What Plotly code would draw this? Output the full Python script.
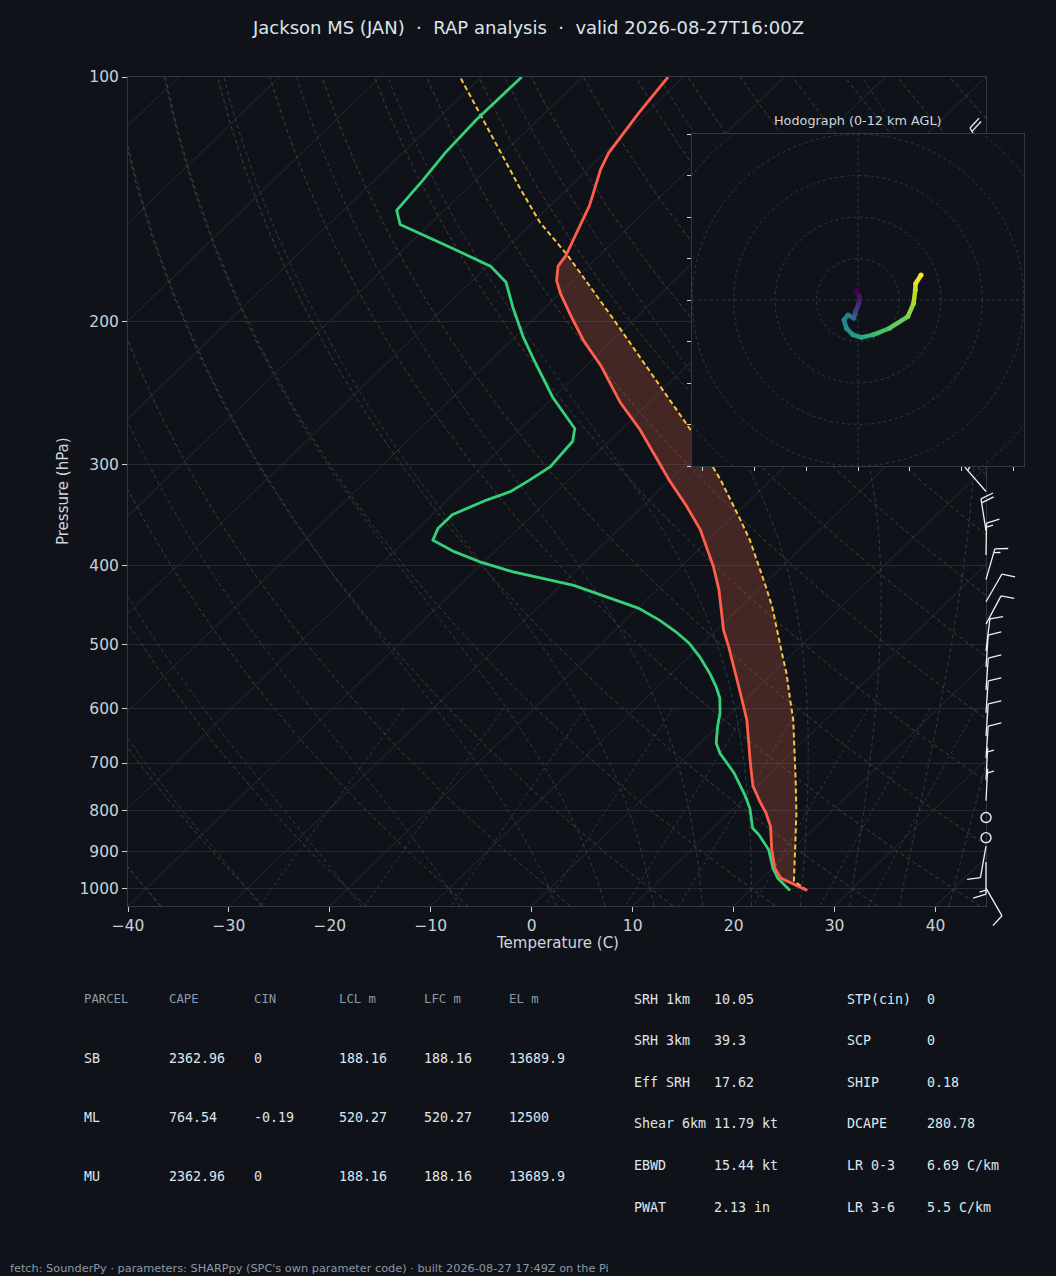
import numpy as np
import plotly.graph_objects as go
from plotly.colors import sample_colorscale

W, H = 1056, 1276
BG = "#0f1319"
FONT = "DejaVu Sans"
MONO = "DejaVu Sans Mono"

# ---- sounding (hPa, degC) ----
p_temp = [1005, 970, 943, 895, 838, 807, 781, 747, 700, 655, 619, 580, 538, 503, 480,
          458, 428, 401, 379, 361, 337, 314, 272, 252, 227, 211, 197, 185, 178, 171,
          166, 153, 144, 130, 124, 111, 100]
temp = [25.7, 21.8, 20.2, 18.0, 15.5, 13.7, 11.9, 9.6, 7.0, 4.4, 2.2, -0.7, -4.1, -7.1, -9.3,
        -11.2, -13.9, -16.8, -19.5, -21.9, -25.8, -30.0, -38.1, -42.8, -48.5, -52.9, -56.6, -59.9, -61.7, -63.0,
        -63.3, -64.9, -66.1, -68.7, -69.6, -70.7, -71.5]

p_dwpt = [1005, 970, 943, 895, 858, 842, 796, 766, 720, 681, 662, 631, 608, 582, 564,
          543, 518, 498, 482, 467, 451, 441, 423, 414, 407, 396, 384, 372, 360, 346,
          332, 324, 314, 302, 281, 271, 248, 223, 209, 192, 179, 171, 163, 152, 146,
          134, 124, 113, 100]
dwpt = [24.0, 21.5, 20.0, 17.7, 15.2, 13.9, 11.6, 9.7, 6.4, 3.0, 1.6, 0.0, -1.1, -2.7, -4.2,
        -6.2, -8.9, -11.4, -13.9, -16.6, -20.0, -23.0, -28.7, -32.8, -36.1, -40.3, -44.1, -47.3, -48.0, -48.0,
        -46.1, -44.6, -43.9, -43.2, -43.6, -44.7, -50.1, -55.8, -59.2, -63.3, -66.5, -69.7, -75.0, -82.9, -84.7,
        -85.2, -85.8, -86.1, -86.0]

# surface based parcel path
p_parcel = [1005, 978, 887, 807, 734, 668, 619, 580, 543, 513, 480, 449, 424, 399, 372,
            350, 330, 314, 272, 234, 199, 166, 151, 137, 100]
t_parcel = [25.7, 23.4, 20.0, 16.7, 13.2, 9.7, 6.8, 4.1, 1.4, -1.1, -4.0, -6.9, -9.6, -12.5, -15.9,
            -19.1, -22.2, -24.9, -33.1, -42.2, -52.0, -63.1, -69.3, -74.8, -92.1]
p_el = 166

# wind barbs (hPa, deg from, kt)
p_wind = [125, 324, 362, 388, 416, 443, 472, 509, 533, 569, 607, 648, 690, 734, 779,
          817, 865, 886, 927, 998]
wdir = [330, 319, 351, 1, 16, 30, 28, 7, 4, 4, 4, 4, 4, 3, 3, 0, 0, 190, 180, 150]
wspd = [20, 20, 20, 15, 15, 10, 10, 10, 10, 10, 10, 10, 10, 5, 5, 0, 0, 10, 15, 10]

# hodograph (u, v) and height km for colouring
hodo_u = [-0.4, 0.4, 0.2, -0.6, -1.0, -2.4, -3.4, -2.8, -1.2, 0.8, 3.6, 7.6, 12.0, 13.4, 13.8, 13.9, 15.2]
hodo_v = [2.2, 0.8, -0.8, -2.8, -4.4, -3.6, -4.8, -6.8, -8.4, -9.0, -8.4, -6.8, -4.0, -0.8, 2.4, 4.0, 6.0]
hodo_z = [0, 0.6, 1.2, 2.4, 4.0, 5.0, 5.5, 6.0, 6.6, 7.2, 8.0, 8.8, 9.6, 10.4, 10.9, 11.4, 12]

# parameter tables
parcel_cols = ["PARCEL", "CAPE", "CIN", "LCL m", "LFC m", "EL m"]
parcel_rows = [
    ["SB", "2362.96", "0", "188.16", "188.16", "13689.9"],
    ["ML", "764.54", "-0.19", "520.27", "520.27", "12500"],
    ["MU", "2362.96", "0", "188.16", "188.16", "13689.9"],
]
kin_names = ["SRH 1km", "SRH 3km", "Eff SRH", "Shear 6km", "EBWD", "PWAT"]
kin_vals = ["10.05", "39.3", "17.62", "11.79 kt", "15.44 kt", "2.13 in"]
idx_names = ["STP(cin)", "SCP", "SHIP", "DCAPE", "LR 0-3", "LR 3-6"]
idx_vals = ["0", "0", "0.18", "280.78", "6.69 C/km", "5.5 C/km"]

SEP = "\u00a0\u00a0·\u00a0\u00a0"
title = SEP.join(["Jackson MS (JAN)", "RAP analysis", "valid 2026-08-27T16:00Z"])
footer = "fetch: SounderPy · parameters: SHARPpy (SPC's own parameter code) · built 2026-08-27 17:49Z on the Pi"

# ---- skew-T frame (pixel box of the main axes) ----
AX_L, AX_R, AX_T, AX_B = 128, 986, 77, 906
P_BOT, P_TOP = 1050.0, 100.0
T_MIN, T_MAX = -40, 45
LOG_SPAN = np.log10(P_BOT) - np.log10(P_TOP)
PX_PER_DEC = (AX_B - AX_T) / LOG_SPAN


def skew_x(t, p):
    frac = (np.log10(P_BOT) - np.log10(np.asarray(p, float))) / LOG_SPAN
    return np.asarray(t, float) + (T_MAX - T_MIN) * frac


def joined(lines):
    xs, ys = [], []
    for x, y in lines:
        xs += list(x) + [None]
        ys += list(y) + [None]
    return xs, ys


def moist_path(t0c, pres):
    Rd, cp, Lv, eps = 287.04, 1005.7, 2.501e6, 0.622

    def f(p, t):
        tc = t - 273.15
        es = 6.112 * np.exp(17.67 * tc / (tc + 243.5))
        rs = eps * es / (p - es)
        return (Rd * t + Lv * rs) / (cp + Lv * Lv * rs * eps / (Rd * t * t)) / p

    out = [t0c + 273.15]
    for p0, p1 in zip(pres[:-1], pres[1:]):
        h = p1 - p0
        t = out[-1]
        k1 = f(p0, t)
        k2 = f(p0 + h / 2, t + h * k1 / 2)
        k3 = f(p0 + h / 2, t + h * k2 / 2)
        k4 = f(p1, t + h * k3)
        out.append(t + h * (k1 + 2 * k2 + 2 * k3 + k4) / 6)
    return np.array(out) - 273.15


fig = go.Figure()

# isotherms
iso = [(skew_x([t, t], [P_BOT, P_TOP]), [P_BOT, P_TOP]) for t in range(-130, 50, 10)]
x, y = joined(iso)
fig.add_trace(go.Scatter(x=x, y=y, mode="lines", line=dict(color="#252c35", width=1), hoverinfo="skip"))

# dry adiabats
pp = np.geomspace(P_BOT, P_TOP, 60)
dry = []
for th in range(-50, 201, 10):
    t = (th + 273.15) * (pp / 1000.0) ** 0.2857 - 273.15
    dry.append((skew_x(t, pp), pp))
x, y = joined(dry)
fig.add_trace(go.Scatter(x=x, y=y, mode="lines", hoverinfo="skip",
                         line=dict(color="#4c3c2d", width=1, dash="4px,3px")))

# moist adiabats
up = np.geomspace(1000, P_TOP, 90)
down = np.geomspace(1000, P_BOT, 6)
moist = []
for t0 in [-40, -30, -20, -10, 0, 5, 10, 15, 20, 25, 30, 35, 40, 45]:
    tu = moist_path(t0, up)
    td = moist_path(t0, down)
    pm = np.concatenate([down[::-1], up[1:]])
    tm = np.concatenate([td[::-1], tu[1:]])
    moist.append((skew_x(tm, pm), pm))
x, y = joined(moist)
fig.add_trace(go.Scatter(x=x, y=y, mode="lines", hoverinfo="skip",
                         line=dict(color="#2b3c45", width=1, dash="4px,3px")))

# mixing ratio lines
pw = np.linspace(600, P_BOT, 25)
mix = []
for w in [0.4, 1, 2, 4, 7, 10, 16, 24, 32]:
    e = pw * (w / 1000) / (0.622 + w / 1000)
    le = np.log(e / 6.112)
    tdw = 243.5 * le / (17.67 - le)
    mix.append((skew_x(tdw, pw), pw))
x, y = joined(mix)
fig.add_trace(go.Scatter(x=x, y=y, mode="lines", hoverinfo="skip",
                         line=dict(color="#2a3b44", width=1, dash="3px,3px")))

# CAPE shading between parcel and environment up to the EL
pp_a = np.array(p_parcel); tp_a = np.array(t_parcel)
pt_a = np.array(p_temp); tt_a = np.array(temp)
m1 = pp_a >= p_el
m2 = pt_a >= p_el
fx = list(skew_x(tp_a[m1], pp_a[m1])) + list(skew_x(tt_a[m2], pt_a[m2])[::-1])
fy = list(pp_a[m1]) + list(pt_a[m2][::-1])
fig.add_trace(go.Scatter(x=fx, y=fy, mode="lines", fill="toself", line=dict(width=0),
                         fillcolor="rgba(240,100,75,0.24)", hoverinfo="skip"))

fig.add_trace(go.Scatter(x=skew_x(t_parcel, p_parcel), y=p_parcel, mode="lines", name="parcel",
                         line=dict(color="#f4c542", width=2, dash="5px,3px")))
fig.add_trace(go.Scatter(x=skew_x(dwpt, p_dwpt), y=p_dwpt, mode="lines", name="Td",
                         line=dict(color="#35d07a", width=2.8)))
fig.add_trace(go.Scatter(x=skew_x(temp, p_temp), y=p_temp, mode="lines", name="T",
                         line=dict(color="#ff5e4b", width=2.8)))

# ---- wind barbs, on an overlay axis: x in pixels, y same log-pressure scale ----
BARB_TOP, BARB_BOT = 60, 935
L = 32.0


def to_p(p0, north_px):
    return p0 * 10 ** (-north_px / PX_PER_DEC)


bx, by, calm = [], [], []
for p0, wd, ws in zip(p_wind, wdir, wspd):
    spd = int(5 * round(ws / 5.0))
    if spd == 0:
        calm.append(p0)
        continue
    th = np.deg2rad(wd)
    d = np.array([np.sin(th), np.cos(th)])
    n = np.array([d[1], -d[0]])
    tip = L * d
    bx += [0, tip[0], None]
    by += [p0, to_p(p0, tip[1]), None]
    nfull = spd // 10
    half = spd % 10 >= 5
    s = L
    if nfull == 0:
        s -= 0.125 * L
    for k in range(nfull + (1 if half else 0)):
        frac = 1.0 if k < nfull else 0.5
        a = s * d
        b = a + frac * 0.4 * L * n + frac * 0.125 * L * d
        bx += [a[0], b[0], None]
        by += [to_p(p0, a[1]), to_p(p0, b[1]), None]
        s -= 0.125 * L
fig.add_trace(go.Scatter(x=bx, y=by, mode="lines", xaxis="x2", yaxis="y2", hoverinfo="skip",
                         line=dict(color="#eef1f4", width=1.3)))
fig.add_trace(go.Scatter(x=[0] * len(calm), y=calm, mode="markers", xaxis="x2", yaxis="y2",
                         marker=dict(symbol="circle-open", size=10, color="#eef1f4",
                                     line=dict(width=1.4, color="#eef1f4"))))

# ---- hodograph inset (its own opaque box drawn over the skew-T) ----
R = 40
fig.add_trace(go.Scatter(x=[-R, R, R, -R, -R], y=[-R, -R, R, R, -R], mode="lines", fill="toself",
                         fillcolor=BG, line=dict(width=0), xaxis="x3", yaxis="y3", hoverinfo="skip"))
ang = np.linspace(0, 2 * np.pi, 181)
rings = [(r * np.cos(ang), r * np.sin(ang)) for r in range(10, 51, 10)]
rings += [([-R, R], [0, 0]), ([0, 0], [-R, R])]
x, y = joined(rings)
fig.add_trace(go.Scatter(x=x, y=y, mode="lines", xaxis="x3", yaxis="y3", hoverinfo="skip",
                         line=dict(color="#2c3745", width=1, dash="3px,3px")))
zmax = max(hodo_z)
for i in range(len(hodo_u) - 1):
    c = sample_colorscale("Viridis", [(hodo_z[i] + hodo_z[i + 1]) / 2 / zmax])[0]
    fig.add_trace(go.Scatter(x=hodo_u[i:i + 2], y=hodo_v[i:i + 2], mode="lines", xaxis="x3", yaxis="y3",
                             line=dict(color=c, width=4.5), hoverinfo="skip"))
fig.add_trace(go.Scatter(x=hodo_u, y=hodo_v, mode="markers", xaxis="x3", yaxis="y3", hoverinfo="skip",
                         marker=dict(size=5, color=[sample_colorscale("Viridis", [z / zmax])[0] for z in hodo_z],
                                     line=dict(width=0))))

# ---- layout ----
def fx_(px):
    return px / W


def fy_(py):
    return 1 - py / H


tick_font = dict(family=FONT, size=15.5, color="#c9d1d9")
xt = list(range(-40, 41, 10))
yt = [100, 200, 300, 400, 500, 600, 700, 800, 900, 1000]

fig.update_layout(
    width=W, height=H, autosize=False,
    margin=dict(l=0, r=0, t=0, b=0, pad=0, autoexpand=False),
    paper_bgcolor=BG, plot_bgcolor="rgba(0,0,0,0)", showlegend=False,
    xaxis=dict(domain=[fx_(AX_L), fx_(AX_R)], range=[T_MIN, T_MAX], anchor="y", automargin=False,
               showgrid=False, zeroline=False, tickvals=xt,
               ticktext=[str(v).replace("-", "\u2212") for v in xt],
               ticks="outside", ticklen=5, tickcolor="#c9d1d9", tickfont=tick_font,
               showline=True, linecolor="#2e3946", linewidth=1, mirror=True),
    yaxis=dict(domain=[fy_(AX_B), fy_(AX_T)], type="log", automargin=False,
               range=[np.log10(P_BOT), np.log10(P_TOP)], anchor="x",
               tickvals=yt, ticktext=[str(v) for v in yt],
               showgrid=True, gridcolor="#242b34", gridwidth=1, zeroline=False,
               ticks="outside", ticklen=5, tickcolor="#c9d1d9", tickfont=tick_font,
               showline=True, linecolor="#2e3946", linewidth=1, mirror=True),
    xaxis2=dict(domain=[fx_(936), fx_(1046)], range=[-50, 60], anchor="y2", visible=False,
                automargin=False),
    yaxis2=dict(domain=[fy_(BARB_BOT), fy_(BARB_TOP)], type="log", anchor="x2", visible=False,
                automargin=False,
                range=[np.log10(P_TOP) + (BARB_BOT - AX_T) / PX_PER_DEC,
                       np.log10(P_TOP) + (BARB_TOP - AX_T) / PX_PER_DEC]),
    xaxis3=dict(domain=[fx_(692), fx_(1024)], range=[-R, R], anchor="y3", automargin=False,
                showgrid=False, zeroline=False, showticklabels=False,
                tickvals=[-37.5, -25, -12.5, 0, 12.5, 25, 37.5],
                ticks="outside", ticklen=4, tickcolor="#c9d1d9",
                showline=True, linecolor="#2e3946", linewidth=1, mirror=True),
    yaxis3=dict(domain=[fy_(466), fy_(134)], range=[-R, R], anchor="x3", automargin=False,
                showgrid=False, zeroline=False, showticklabels=False,
                tickvals=list(range(-40, 41, 10)),
                ticks="outside", ticklen=4, tickcolor="#c9d1d9",
                showline=True, linecolor="#2e3946", linewidth=1, mirror=True),
)

ann = []


def text(px, py, s, size=13, color="#dfe5ec", family=FONT, xanchor="left", **kw):
    if xanchor == "left":
        px -= 2  # annotation box padding
    ann.append(dict(x=fx_(px), y=fy_(py), xref="paper", yref="paper", text=s, showarrow=False,
                    xanchor=xanchor, yanchor="middle", font=dict(family=family, size=size, color=color), **kw))


text(528, 27, title, size=18, color="#dde3ea", xanchor="center")
text(858, 120, "Hodograph (0-12 km AGL)", size=12.8, color="#d0d6dd", xanchor="center")
text(63, 491, "Pressure (hPa)", size=15, color="#d0d6dd", xanchor="center", textangle=-90)
text(557, 943, "Temperature (C)", size=15, color="#d0d6dd", xanchor="center")

col_x = [84, 169, 254, 339, 424, 509]
for cx, name in zip(col_x, parcel_cols):
    text(cx, 999, name, size=12.3, color="#8a9aac", family=MONO)
for r, row in enumerate(parcel_rows):
    for cx, val in zip(col_x, row):
        text(cx, 1058 + 59 * r, val, size=13.3, family=MONO)

for r in range(len(kin_names)):
    yy = 999 + 41.6 * r
    text(634, yy, kin_names[r], size=13.3, family=MONO)
    text(714, yy, kin_vals[r], size=13.3, family=MONO)
    text(847, yy, idx_names[r], size=13.3, family=MONO)
    text(927, yy, idx_vals[r], size=13.3, family=MONO)

text(10, 1268, footer, size=11.3, color="#8d98a4")

fig.update_layout(annotations=ann)
fig.write_html("out.html", config={"responsive": False, "displayModeBar": False},
               post_script="document.body.style.margin='0px';"
                           "document.body.style.background='%s';"
                           "document.documentElement.style.overflow='hidden';" % BG)
